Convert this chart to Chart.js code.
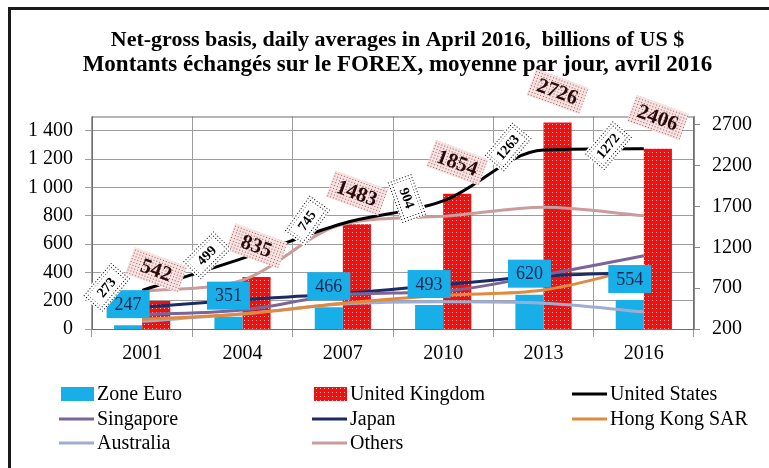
<!DOCTYPE html>
<html>
<head>
<meta charset="utf-8">
<script src="https://cdn.jsdelivr.net/npm/chart.js@4.4.1/dist/chart.umd.min.js"></script>
<style>
body { margin: 0; background: #fff; }
canvas { display: block; }
</style>
</head>
<body>
<canvas id="myChart" width="769" height="468"></canvas>
<script>
// données (milliards USD / jour)
var years = ["2001", "2004", "2007", "2010", "2013", "2016"];
var zoneEuro = [247, 351, 466, 493, 620, 554];
var unitedKingdom = [542, 835, 1483, 1854, 2726, 2406];
var unitedStates = [273, 499, 745, 904, 1263, 1272];
var singapore = [101, 134, 242, 266, 383, 517];
var japan = [153, 207, 250, 312, 374, 399];
var hongKong = [67, 106, 181, 238, 275, 437];
var australia = [54, 107, 176, 192, 182, 121];
var others = [265, 345, 740, 795, 860, 800];
var leftTicks = [0, 200, 400, 600, 800, 1000, 1200, 1400];
var rightTicks = [200, 700, 1200, 1700, 2200, 2700];

var serif = "'Liberation Serif', 'Times New Roman', serif";
var usAngles = [-50, -45, -55, 70, -50, -50];

function dotPattern(c, bg, dot, step, size) {
	var cv = document.createElement('canvas');
	cv.width = step; cv.height = step;
	var g = cv.getContext('2d');
	g.fillStyle = bg; g.fillRect(0, 0, step, step);
	g.fillStyle = dot; g.fillRect(0, 0, size, size);
	return c.createPattern(cv, 'repeat');
}

function fmt(v) {
	var s = String(v);
	return v >= 1000 ? s.slice(0, s.length - 3) + ' ' + s.slice(-3) : s;
}

var ctx = document.getElementById("myChart").getContext('2d');
var ukFill = dotPattern(ctx, '#f01010', '#ffb4b4', 4, 1);
var pinkFill = dotPattern(ctx, '#f7e2e2', '#9c5858', 3, 1);
var dotsFill = dotPattern(ctx, '#ffffff', '#000000', 3, 1);

function lineSet(label, data, color) {
	return {
		type: 'line', label: label, data: data, yAxisID: 'y', order: 1,
		borderColor: color, backgroundColor: color, borderWidth: 3,
		pointRadius: 0, tension: 0.4, cubicInterpolationMode: 'monotone', fill: false
	};
}

function box(c, x, y, w, h, angle, fill, text, font, color, dotted) {
	c.save();
	c.translate(x, y);
	c.rotate(angle * Math.PI / 180);
	if (dotted) {
		c.fillStyle = dotsFill;
		c.fillRect(-w / 2 - 5, -h / 2 - 5, w + 10, h + 10);
	}
	c.fillStyle = fill;
	c.fillRect(-w / 2, -h / 2, w, h);
	c.font = font;
	c.fillStyle = color;
	c.textAlign = 'center';
	c.textBaseline = 'middle';
	c.fillText(text, 0, 1);
	c.restore();
}

var extras = {
	id: 'extras',
	afterDatasetsDraw: function(chart) {
		var c = chart.ctx, a = chart.chartArea;
		c.save();
		c.strokeStyle = '#6e6e6e';
		c.lineWidth = 1;
		c.strokeRect(a.left + 0.5, a.top + 0.5, a.right - a.left - 1, a.bottom - a.top);
		c.restore();
		// zone euro
		chart.getDatasetMeta(0).data.forEach(function(b, i) {
			box(c, b.x, b.y - 21, 43, 28, 0, '#18aee8', String(zoneEuro[i]), '18px ' + serif, '#1b2550', false);
		});
		// UK
		chart.getDatasetMeta(1).data.forEach(function(b, i) {
			box(c, b.x, b.y - 31, 56, 28, 20, pinkFill, String(unitedKingdom[i]), 'bold 21px ' + serif, '#2a0a0a', false);
		});
		// US
		chart.getDatasetMeta(2).data.forEach(function(p, i) {
			box(c, p.x - 36, p.y - 3, 35, 17, usAngles[i], '#ffffff', String(unitedStates[i]), 'bold 14px ' + serif, '#000', true);
		});
	},
	afterDraw: function(chart) {
		var c = chart.ctx;
		c.save();
		// cadre
		c.strokeStyle = '#1a1a1a';
		c.lineWidth = 3;
		c.strokeRect(9.5, 8.5, 800, 500);
		// légende
		var textX = [97, 350, 610];
		var rowY = [394, 419, 443];
		c.font = '20px ' + serif;
		c.textBaseline = 'middle';
		c.textAlign = 'left';
		chart.data.datasets.forEach(function(ds, i) {
			var x = textX[i % 3], y = rowY[Math.floor(i / 3)];
			if (ds.type === 'line') {
				c.strokeStyle = ds.borderColor;
				c.lineWidth = 3;
				c.beginPath();
				c.moveTo(x - 38, y); c.lineTo(x - 3, y);
				c.stroke();
			} else {
				c.fillStyle = ds.backgroundColor;
				c.fillRect(x - 36, y - 7, 33, 14);
			}
			c.fillStyle = '#000';
			c.fillText(ds.label, x, y + 1);
		});
		c.restore();
	}
};

var myChart = new Chart(ctx, {
	data: {
		labels: years,
		datasets: [
			{ type: 'bar', label: 'Zone Euro', data: zoneEuro, yAxisID: 'y1', order: 2, backgroundColor: '#18aee8', categoryPercentage: 0.56, barPercentage: 1 },
			{ type: 'bar', label: 'United Kingdom', data: unitedKingdom, yAxisID: 'y1', order: 2, backgroundColor: ukFill, categoryPercentage: 0.56, barPercentage: 1 },
			lineSet('United States', unitedStates, '#000000'),
			lineSet('Singapore', singapore, '#7b6498'),
			lineSet('Japan', japan, '#1c2a66'),
			lineSet('Hong Kong SAR', hongKong, '#e08a40'),
			lineSet('Australia', australia, '#9eaed2'),
			lineSet('Others', others, '#cc9c9c')
		]
	},
	options: {
		responsive: false,
		animation: false,
		layout: { padding: { left: 26, right: 0, top: 0, bottom: 99 } },
		plugins: {
			legend: { display: false },
			tooltip: { enabled: false },
			title: {
				display: true,
				text: 'Net-gross basis, daily averages in April 2016,  billions of US $',
				color: '#000',
				font: { family: serif, size: 22, weight: 'bold', lineHeight: 1.1 },
				padding: { top: 28, bottom: 0 }
			},
			subtitle: {
				display: true,
				text: 'Montants échangés sur le FOREX, moyenne par jour, avril 2016',
				color: '#000',
				font: { family: serif, size: 23, weight: 'bold', lineHeight: 1.1 },
				padding: { top: 0, bottom: 39 }
			}
		},
		scales: {
			x: {
				offset: true,
				grid: { offset: true, color: '#9c9c9c', tickLength: 8 },
				border: { color: '#8a8a8a' },
				ticks: { color: '#000', font: { family: serif, size: 20 }, padding: 5 },
				afterFit: function(s) { s.height = 40; }
			},
			y: {
				position: 'left',
				min: 0, max: 1500,
				afterBuildTicks: function(s) { s.ticks = leftTicks.map(function(v) { return { value: v }; }); },
				grid: { color: '#9c9c9c', tickLength: 7 },
				border: { color: '#8a8a8a' },
				ticks: { color: '#000', font: { family: serif, size: 20 }, padding: 12, callback: function(v) { return fmt(v); } },
				afterFit: function(s) { s.width = 66; }
			},
			y1: {
				position: 'right',
				min: 200, max: 2800,
				afterBuildTicks: function(s) { s.ticks = rightTicks.map(function(v) { return { value: v }; }); },
				grid: { drawOnChartArea: false, color: '#8a8a8a', tickLength: 6 },
				border: { color: '#8a8a8a' },
				ticks: { color: '#000', font: { family: serif, size: 20 }, padding: 12, callback: function(v) { return String(v); } },
				afterFit: function(s) { s.width = 75; }
			}
		}
	},
	plugins: [extras]
});
</script>
</body>
</html>
